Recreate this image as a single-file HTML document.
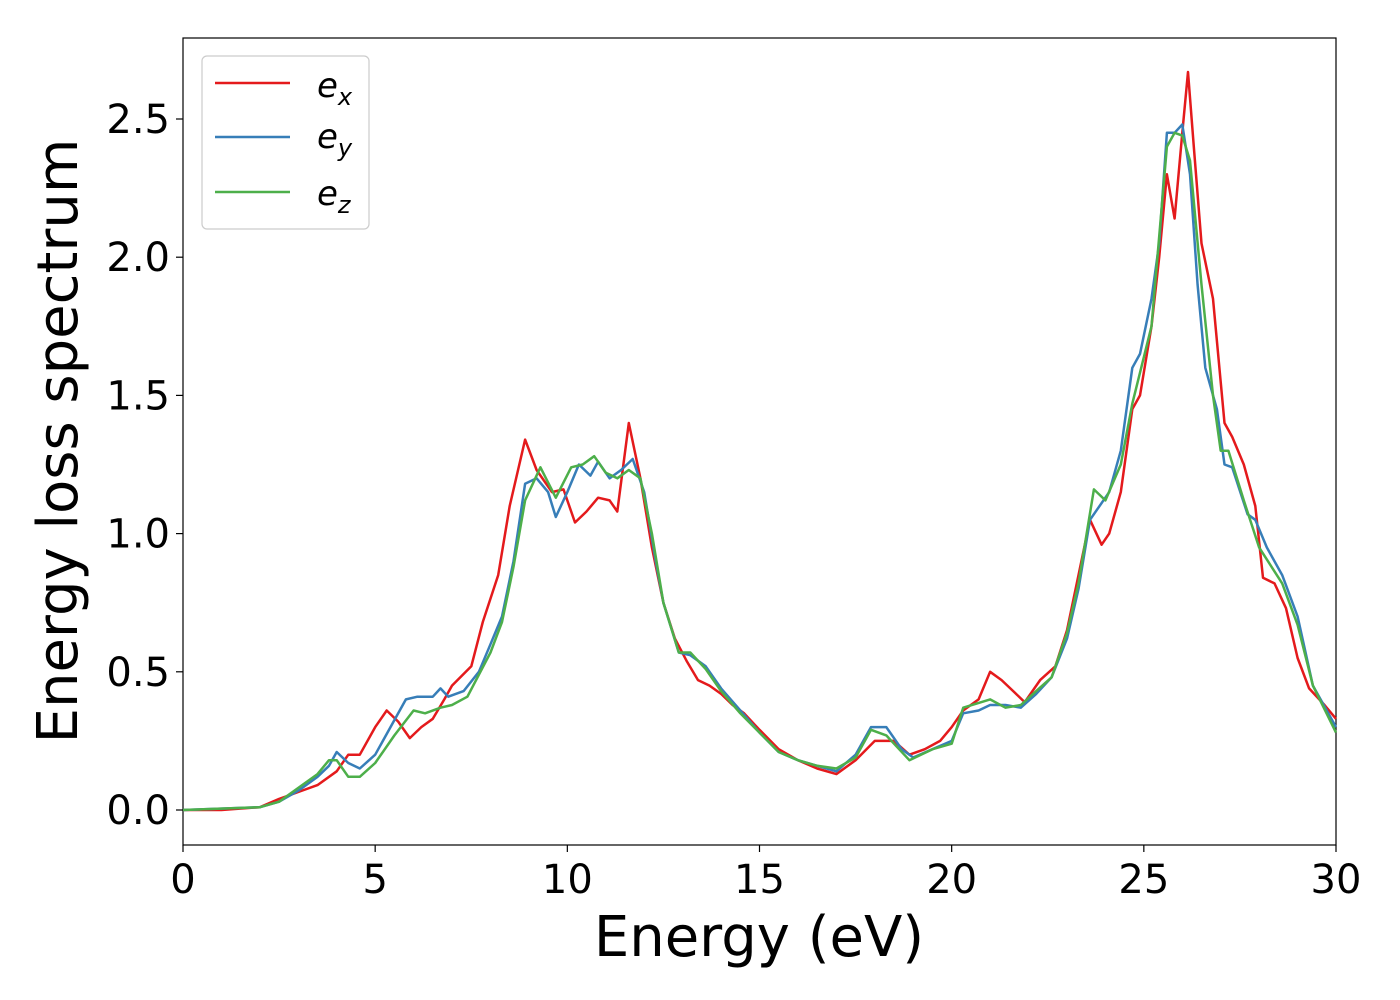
<!DOCTYPE html>
<html><head><meta charset="utf-8"><style>
html,body{margin:0;padding:0;background:#fff;}
svg{display:block;font-family:"DejaVu Sans","Liberation Sans",sans-serif;}
</style></head><body>
<svg id="chart" width="1400" height="1000" viewBox="0 0 1400 1000">
<rect x="183" y="38" width="1153" height="807" fill="#fff" stroke="#000" stroke-width="1.2"/>
<g id="series"></g>
<g id="axes"></g>
<text x="759" y="956" font-size="56" text-anchor="middle">Energy (eV)</text>
<text transform="translate(77,441) rotate(-90)" font-size="56" text-anchor="middle">Energy loss spectrum</text>
<g>
<rect x="202" y="56" width="167" height="173" rx="5" fill="#fff" fill-opacity="0.8" stroke="#ccc" stroke-width="1.2"/>
<g><line x1="215" y1="83" x2="290" y2="83" stroke="#e41a1c" stroke-width="2.5"/><text x="317" y="97" font-size="34" font-style="italic">e<tspan font-size="24" dy="8">x</tspan></text></g>
<g><line x1="215" y1="137" x2="290" y2="137" stroke="#377eb8" stroke-width="2.5"/><text x="317" y="148" font-size="34" font-style="italic">e<tspan font-size="24" dy="8">y</tspan></text></g>
<g><line x1="215" y1="192" x2="290" y2="192" stroke="#4daf4a" stroke-width="2.5"/><text x="317" y="205" font-size="34" font-style="italic">e<tspan font-size="24" dy="8">z</tspan></text></g>
</g>
</svg>
<script>
const xTicks=[0,5,10,15,20,25,30];
const yTicks=[0.0,0.5,1.0,1.5,2.0,2.5];
const yTickLabels=["0.0","0.5","1.0","1.5","2.0","2.5"];
const exE=[0,1,2,2.5,3,3.5,4,4.3,4.6,5,5.3,5.6,5.9,6.2,6.5,6.8,7,7.5,7.8,8.2,8.5,8.9,9.2,9.6,9.9,10.2,10.5,10.8,11.1,11.3,11.6,11.9,12.2,12.5,12.8,13.1,13.4,13.7,14,14.3,14.6,15,15.5,16,16.5,17,17.5,18,18.5,18.9,19.3,19.7,20,20.3,20.7,21,21.3,21.6,21.9,22.3,22.7,23,23.3,23.6,23.9,24.1,24.4,24.7,24.9,25.2,25.4,25.6,25.8,26,26.15,26.3,26.5,26.8,27.1,27.3,27.6,27.9,28.1,28.4,28.7,29,29.3,29.7,30];
const exV=[0,0,0.01,0.04,0.065,0.09,0.14,0.2,0.2,0.3,0.36,0.32,0.26,0.3,0.33,0.4,0.45,0.52,0.68,0.85,1.1,1.34,1.23,1.15,1.16,1.04,1.08,1.13,1.12,1.08,1.4,1.2,0.95,0.75,0.62,0.54,0.47,0.45,0.42,0.38,0.35,0.29,0.22,0.18,0.15,0.13,0.18,0.25,0.25,0.2,0.22,0.25,0.3,0.36,0.4,0.5,0.47,0.43,0.39,0.47,0.52,0.65,0.85,1.05,0.96,1.0,1.15,1.45,1.5,1.75,2.0,2.3,2.14,2.45,2.67,2.4,2.05,1.85,1.4,1.35,1.25,1.1,0.84,0.82,0.73,0.55,0.44,0.38,0.33];
const eyE=[0,2,2.5,3,3.5,3.8,4,4.3,4.6,5,5.4,5.8,6.1,6.5,6.7,6.9,7.3,7.7,8,8.3,8.6,8.9,9.2,9.5,9.7,10,10.3,10.6,10.8,11.1,11.4,11.7,12,12.3,12.5,12.9,13.2,13.6,14,14.5,15,15.5,16,16.5,17,17.5,17.9,18.3,18.7,19,19.5,20,20.3,20.7,21,21.4,21.8,22.2,22.6,23,23.3,23.6,23.8,24.1,24.4,24.7,24.9,25.2,25.4,25.6,25.8,26,26.2,26.4,26.6,26.9,27.1,27.3,27.7,27.9,28.2,28.6,29,29.4,30];
const eyV=[0,0.01,0.03,0.07,0.12,0.16,0.21,0.17,0.15,0.2,0.3,0.4,0.41,0.41,0.44,0.41,0.43,0.5,0.6,0.7,0.9,1.18,1.2,1.15,1.06,1.15,1.25,1.21,1.26,1.2,1.23,1.27,1.15,0.9,0.75,0.57,0.56,0.52,0.44,0.36,0.28,0.21,0.18,0.16,0.14,0.2,0.3,0.3,0.22,0.19,0.22,0.25,0.35,0.36,0.38,0.38,0.37,0.42,0.48,0.62,0.8,1.05,1.09,1.15,1.3,1.6,1.65,1.85,2.05,2.45,2.45,2.48,2.3,1.9,1.6,1.45,1.25,1.24,1.07,1.05,0.95,0.85,0.7,0.45,0.3];
const ezE=[0,2,2.5,3,3.5,3.8,4,4.3,4.6,5,5.5,6,6.3,6.7,7,7.4,8,8.3,8.6,8.9,9.3,9.7,10.1,10.4,10.7,11,11.3,11.6,11.9,12.2,12.5,12.9,13.2,13.6,14,14.5,15,15.5,16,16.5,17,17.5,17.9,18.3,18.9,19.5,20,20.3,21,21.4,21.8,22.2,22.6,23,23.3,23.7,24,24.4,24.7,25.2,25.6,25.8,26,26.2,26.5,26.8,27,27.2,27.6,28,28.6,29,29.4,30];
const ezV=[0,0.01,0.03,0.08,0.13,0.18,0.18,0.12,0.12,0.17,0.27,0.36,0.35,0.37,0.38,0.41,0.57,0.68,0.88,1.12,1.24,1.13,1.24,1.25,1.28,1.22,1.2,1.23,1.2,1.0,0.75,0.57,0.57,0.51,0.43,0.35,0.28,0.21,0.18,0.16,0.15,0.19,0.29,0.27,0.18,0.22,0.24,0.37,0.4,0.37,0.38,0.43,0.48,0.64,0.82,1.16,1.12,1.25,1.47,1.75,2.4,2.45,2.44,2.35,1.9,1.5,1.3,1.3,1.12,0.95,0.82,0.67,0.45,0.28];
const X0=183,X1=1336,Y0=810,YS=276.4;
const xs=e=>X0+(X1-X0)*e/30;
const ys=v=>Y0-v*YS;
const NS="http://www.w3.org/2000/svg";
const ser=document.getElementById('series');
function drawLine(E,V,color,name){
  const p=document.createElementNS(NS,'polyline');
  p.setAttribute('points',E.map((e,i)=>xs(e).toFixed(1)+','+ys(V[i]).toFixed(1)).join(' '));
  p.setAttribute('fill','none');p.setAttribute('stroke',color);p.setAttribute('stroke-width','2.5');
  p.setAttribute('stroke-linejoin','round');
  
  
  ser.appendChild(p);
}
drawLine(exE,exV,'#e41a1c','series-ex');
drawLine(eyE,eyV,'#377eb8','series-ey');
drawLine(ezE,ezV,'#4daf4a','series-ez');
const ax=document.getElementById('axes');
xTicks.forEach(t=>{
  const l=document.createElementNS(NS,'line');
  l.setAttribute('x1',xs(t));l.setAttribute('x2',xs(t));l.setAttribute('y1',845);l.setAttribute('y2',852);l.setAttribute('stroke','#000');l.setAttribute('stroke-width','1.2');
  
  
  ax.appendChild(l);
  const tx=document.createElementNS(NS,'text');
  tx.setAttribute('x',xs(t));tx.setAttribute('y',893);tx.setAttribute('font-size','40');tx.setAttribute('text-anchor','middle');
  tx.textContent=String(t);
  
  
  ax.appendChild(tx);
});
yTicks.forEach((t,i)=>{
  const l=document.createElementNS(NS,'line');
  l.setAttribute('x1',176);l.setAttribute('x2',183);l.setAttribute('y1',ys(t));l.setAttribute('y2',ys(t));l.setAttribute('stroke','#000');l.setAttribute('stroke-width','1.2');
  
  
  ax.appendChild(l);
  const tx=document.createElementNS(NS,'text');
  tx.setAttribute('x',170);tx.setAttribute('y',ys(t)+14);tx.setAttribute('font-size','40');tx.setAttribute('text-anchor','end');
  tx.textContent=yTickLabels[i];
  
  
  ax.appendChild(tx);
});
</script>
</body></html>
